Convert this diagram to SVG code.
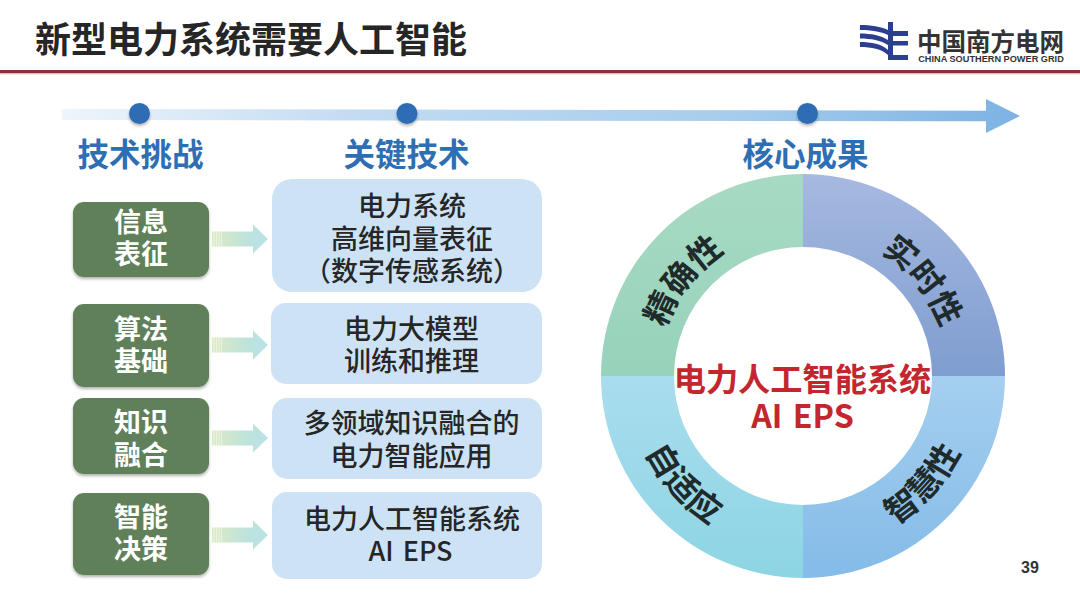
<svg xmlns="http://www.w3.org/2000/svg" width="1080" height="608" viewBox="0 0 1080 608">
  <style>
    text { font-family: "Noto Sans CJK SC", "Liberation Sans", sans-serif; text-anchor: middle; }
    .title { font-size: 36px; font-weight: 700; fill: #262626; text-anchor: start; }
    .head { font-size: 31.500px; font-weight: 700; fill: #2e6eb4; }
    .tag rect { fill: #61805a; filter: url(#lift); }
    .tag text { font-size: 27px; font-weight: 700; fill: #ffffff; }
    .card rect { fill: #cde3f5; }
    .card text { font-size: 27px; font-weight: 500; fill: #262626; }
    .dot { fill: #2f6db5; filter: url(#lift); }
    .seg { font-size: 33px; font-weight: 700; fill: #1f2a2a; }
    .core { font-size: 32.200px; font-weight: 700; fill: #c4262e; }
    .logo { fill: #2b3f8f; }
  </style>
  <defs>
    <filter id="lift" x="-20%" y="-20%" width="140%" height="150%">
      <feDropShadow dx="0" dy="2" stdDeviation="1.6" flood-color="#000000" flood-opacity="0.3"/>
    </filter>
    <linearGradient id="timeline" x1="0" y1="0" x2="1" y2="0">
      <stop offset="0" stop-color="#eef5fb"/>
      <stop offset="0.3" stop-color="#c3dcf2"/>
      <stop offset="0.7" stop-color="#a6cdec"/>
      <stop offset="1" stop-color="#7db2e3"/>
    </linearGradient>
    <linearGradient id="flow" x1="0" y1="0" x2="1" y2="0">
      <stop offset="0" stop-color="#dcebc4"/>
      <stop offset="0.6" stop-color="#bfe3dc"/>
      <stop offset="1" stop-color="#b8e2e6"/>
    </linearGradient>
    <linearGradient id="qGreen" x1="0" y1="0" x2="0" y2="1">
      <stop offset="0" stop-color="#a8dac3"/>
      <stop offset="1" stop-color="#97d2bb"/>
    </linearGradient>
    <linearGradient id="qBlue" x1="0" y1="0" x2="0" y2="1">
      <stop offset="0" stop-color="#a6b9e0"/>
      <stop offset="1" stop-color="#7f9dd0"/>
    </linearGradient>
    <linearGradient id="qCyan" x1="0" y1="0" x2="0" y2="1">
      <stop offset="0" stop-color="#a9dcef"/>
      <stop offset="1" stop-color="#8dd5e3"/>
    </linearGradient>
    <linearGradient id="qSky" x1="0" y1="0" x2="0" y2="1">
      <stop offset="0" stop-color="#a5cfef"/>
      <stop offset="1" stop-color="#84bbe8"/>
    </linearGradient>
    <!-- block arrow with a few pale ticks at its tail -->
    <g id="flowArrow">
      <path fill="url(#flow)" d="M0 -7.500H41V-14.500L56 0L41 14.500V7.500H0Z"/>
      <path stroke="#ffffff" stroke-width="0.800" opacity="0.600" d="M2 -7.500V7.500M4.500 -7.500V7.500M7 -7.500V7.500M9.500 -7.500V7.500"/>
    </g>
    <!-- baselines for the ring labels -->
    <path id="arcTL" d="M657.050 379.800A146 146 0 0 1 773.900 232.900"/>
    <path id="arcTR" d="M832.100 232.900A146 146 0 0 1 948.950 379.800"/>
    <path id="arcBL" d="M628.100 382.100A175 175 0 0 0 778.600 549.300"/>
    <path id="arcBR" d="M827.400 549.300A175 175 0 0 0 977.900 382.100"/>
  </defs>

  <rect width="1080" height="608" fill="#ffffff"/>

  <g id="header">
    <text class="title" x="35" y="53">新型电力系统需要人工智能</text>
    <rect x="0" y="70" width="1080" height="3.500" fill="#8c2f3a"/>
    <rect x="0" y="73.500" width="1080" height="1" fill="#ecd5d7"/>
  </g>

  <g id="logo">
    <path class="logo" d="M860 25C871 25 881 26.500 888 30V35C881 31.500 871 30 860 30Z"/>
    <path class="logo" d="M860 33.500C871 33.500 881 35.500 888 40V45C881 40.500 871 38.500 860 38.500Z"/>
    <path class="logo" d="M860 42C871 42 882 44 888 50V55C882 49 871 47 860 47Z"/>
    <rect class="logo" x="888" y="22" width="5" height="38"/>
    <rect class="logo" x="893" y="31" width="15" height="5"/>
    <rect class="logo" x="893" y="41" width="15" height="4.500"/>
    <rect class="logo" x="893" y="55" width="15" height="5"/>
    <text x="990.500" y="51" style="font-size:24.500px;font-weight:700;fill:#333333">中国南方电网</text>
    <text x="991" y="62" style="font-family:'Liberation Sans',sans-serif;font-size:9.200px;font-weight:700;fill:#333333">CHINA SOUTHERN POWER GRID</text>
  </g>

  <g id="timeline">
    <path fill="url(#timeline)" d="M62 109L986 110.700V99L1020 116L986 133V121.300L62 120Z"/>
    <circle class="dot" cx="139.500" cy="113.500" r="10.500"/>
    <circle class="dot" cx="407" cy="113.500" r="10.500"/>
    <circle class="dot" cx="807.500" cy="113.500" r="10.500"/>
    <text class="head" x="140.500" y="166">技术挑战</text>
    <text class="head" x="406.500" y="166">关键技术</text>
    <text class="head" x="805.500" y="166">核心成果</text>
  </g>

  <g id="connectors">
    <use href="#flowArrow" x="212" y="239"/>
    <use href="#flowArrow" x="212" y="345"/>
    <use href="#flowArrow" x="212" y="438"/>
    <use href="#flowArrow" x="212" y="535"/>
  </g>

  <g id="tag-info" class="tag">
    <rect x="73" y="202" width="136" height="75" rx="11"/>
    <text x="141" y="232">信息</text>
    <text x="141" y="264">表征</text>
  </g>
  <g id="tag-algo" class="tag">
    <rect x="73" y="304" width="136" height="83" rx="11"/>
    <text x="141" y="339">算法</text>
    <text x="141" y="371">基础</text>
  </g>
  <g id="tag-know" class="tag">
    <rect x="73" y="398" width="136" height="76" rx="11"/>
    <text x="141" y="432">知识</text>
    <text x="141" y="465">融合</text>
  </g>
  <g id="tag-deci" class="tag">
    <rect x="73" y="493" width="136" height="82" rx="11"/>
    <text x="141" y="527">智能</text>
    <text x="141" y="559">决策</text>
  </g>

  <g id="card-repr" class="card">
    <rect x="272" y="179" width="270" height="113" rx="20"/>
    <text x="412" y="216">电力系统</text>
    <text x="412" y="249">高维向量表征</text>
    <text x="412" y="281">（数字传感系统）</text>
  </g>
  <g id="card-model" class="card">
    <rect x="271" y="303" width="271" height="81" rx="15"/>
    <text x="411.500" y="339">电力大模型</text>
    <text x="411.500" y="371">训练和推理</text>
  </g>
  <g id="card-fusion" class="card">
    <rect x="272" y="398" width="270" height="81" rx="15"/>
    <text x="411.500" y="433">多领域知识融合的</text>
    <text x="411.500" y="466">电力智能应用</text>
  </g>
  <g id="card-eps" class="card">
    <rect x="272" y="492" width="270" height="87" rx="15"/>
    <text x="412" y="529">电力人工智能系统</text>
    <text x="410.500" y="561" style="word-spacing:3px">AI EPS</text>
  </g>

  <g id="ring">
    <path fill="url(#qGreen)" d="M601 376A202 202 0 0 1 803 174V247A129 129 0 0 0 674 376Z"/>
    <path fill="url(#qBlue)" d="M803 174A202 202 0 0 1 1005 376H932A129 129 0 0 0 803 247Z"/>
    <path fill="url(#qSky)" d="M1005 376A202 202 0 0 1 803 578V505A129 129 0 0 0 932 376Z"/>
    <path fill="url(#qCyan)" d="M803 578A202 202 0 0 1 601 376H674A129 129 0 0 0 803 505Z"/>
    <text class="seg"><textPath href="#arcTL" startOffset="50%">精确性</textPath></text>
    <text class="seg"><textPath href="#arcTR" startOffset="50%">实时性</textPath></text>
    <text class="seg"><textPath href="#arcBR" startOffset="50%">智慧性</textPath></text>
    <text class="seg"><textPath href="#arcBL" startOffset="50%">自适应</textPath></text>
    <text class="core" x="802.500" y="391">电力人工智能系统</text>
    <text class="core" x="802.500" y="428" style="word-spacing:3px">AI EPS</text>
  </g>

  <text x="1030" y="573" style="font-family:'Liberation Sans',sans-serif;font-size:16px;font-weight:700;fill:#333333">39</text>
</svg>
